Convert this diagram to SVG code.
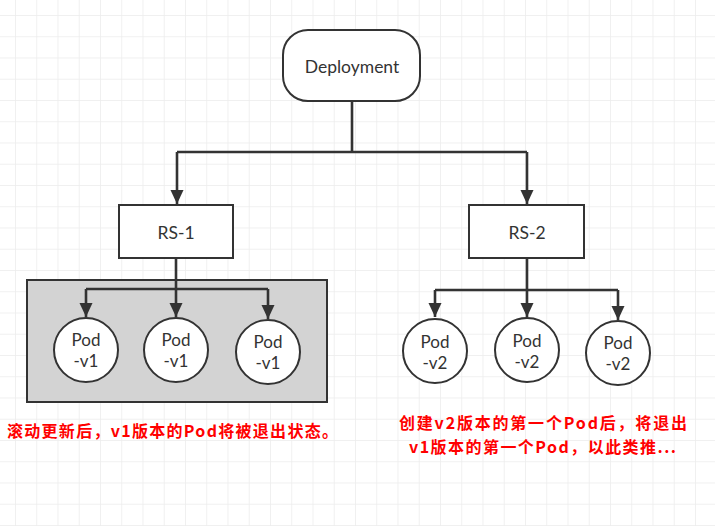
<svg xmlns="http://www.w3.org/2000/svg" width="715" height="526" viewBox="0 0 715 526">
  <style>
    .node { fill: #ffffff; stroke: #333333; stroke-width: 2; }
    .lbl { font-family: Lato, "Noto Sans", sans-serif; font-size: 17.5px; fill: #333333; text-anchor: middle; }
    .pod { font-size: 17px; }
    .conn { fill: none; stroke: #333333; stroke-width: 2.6; }
    .note { font-family: "Noto Sans CJK SC", "Microsoft YaHei", sans-serif; font-size: 16px; font-weight: bold; fill: #ff0000; }
  </style>
  <defs>
    <pattern id="grid" x="15" y="15" width="21.25" height="21.25" patternUnits="userSpaceOnUse">
      <path d="M0 0 H21.25 M0 0 V21.25" fill="none" stroke="#ececec" stroke-width="1.5"/>
    </pattern>
    <marker id="arrow" markerUnits="userSpaceOnUse" markerWidth="14" markerHeight="14" refX="14" refY="6.5" orient="auto" viewBox="0 0 14 13">
      <path d="M0 0 L14 6.5 L0 13 Z" fill="#333333"/>
    </marker>
  </defs>
  <rect x="0" y="0" width="715" height="526" fill="#ffffff"/>
  <rect x="0" y="0" width="715" height="526" fill="url(#grid)"/>

  <g id="group-v1">
    <rect x="27" y="280" width="300" height="122" fill="#d3d3d3" stroke="#333333" stroke-width="2"/>
  </g>

  <g id="connectors">
    <path class="conn" d="M352 101 V152"/>
    <path class="conn" d="M177 152 H527"/>
    <path class="conn" d="M177 152 V204" marker-end="url(#arrow)"/>
    <path class="conn" d="M527 152 V204" marker-end="url(#arrow)"/>
    <path class="conn" d="M176 258 V289"/>
    <path class="conn" d="M86 289 H268"/>
    <path class="conn" d="M86 289 V317" marker-end="url(#arrow)"/>
    <path class="conn" d="M176 289 V317" marker-end="url(#arrow)"/>
    <path class="conn" d="M268 289 V319" marker-end="url(#arrow)"/>
    <path class="conn" d="M527 258 V290"/>
    <path class="conn" d="M435 290 H618"/>
    <path class="conn" d="M435 290 V317" marker-end="url(#arrow)"/>
    <path class="conn" d="M527 290 V317" marker-end="url(#arrow)"/>
    <path class="conn" d="M618 290 V320" marker-end="url(#arrow)"/>
  </g>

  <g id="deployment">
    <rect class="node" x="283" y="30" width="137" height="71" rx="25" ry="25"/>
    <text class="lbl" x="352" y="73">Deployment</text>
  </g>
  <g id="rs-1">
    <rect class="node" x="119" y="205" width="114" height="53"/>
    <text class="lbl" x="176" y="239">RS-1</text>
  </g>
  <g id="rs-2">
    <rect class="node" x="469" y="205" width="115" height="53"/>
    <text class="lbl" x="527" y="239">RS-2</text>
  </g>

  <g id="pod-v1-1">
    <circle class="node" cx="86" cy="350" r="32"/>
    <text class="lbl pod" x="86" y="345.5">Pod</text>
    <text class="lbl pod" x="86" y="366.5">-v1</text>
  </g>
  <g id="pod-v1-2">
    <circle class="node" cx="176" cy="350" r="32"/>
    <text class="lbl pod" x="176" y="345.5">Pod</text>
    <text class="lbl pod" x="176" y="366.5">-v1</text>
  </g>
  <g id="pod-v1-3">
    <circle class="node" cx="268" cy="352" r="32"/>
    <text class="lbl pod" x="268" y="347.5">Pod</text>
    <text class="lbl pod" x="268" y="368.5">-v1</text>
  </g>

  <g id="pod-v2-1">
    <circle class="node" cx="435" cy="351" r="32"/>
    <text class="lbl pod" x="435" y="347.5">Pod</text>
    <text class="lbl pod" x="435" y="368.5">-v2</text>
  </g>
  <g id="pod-v2-2">
    <circle class="node" cx="527" cy="350" r="32"/>
    <text class="lbl pod" x="527" y="346.5">Pod</text>
    <text class="lbl pod" x="527" y="367.5">-v2</text>
  </g>
  <g id="pod-v2-3">
    <circle class="node" cx="618" cy="353" r="32"/>
    <text class="lbl pod" x="618" y="348.5">Pod</text>
    <text class="lbl pod" x="618" y="369.5">-v2</text>
  </g>

  <g id="notes">
    <text class="note" x="7" y="437" textLength="331" lengthAdjust="spacing">滚动更新后，v1版本的Pod将被退出状态。</text>
    <text class="note" x="399" y="429" textLength="288" lengthAdjust="spacing">创建v2版本的第一个Pod后，将退出</text>
    <text class="note" x="409" y="452.5" textLength="267" lengthAdjust="spacing">v1版本的第一个Pod，以此类推...</text>
  </g>
</svg>
